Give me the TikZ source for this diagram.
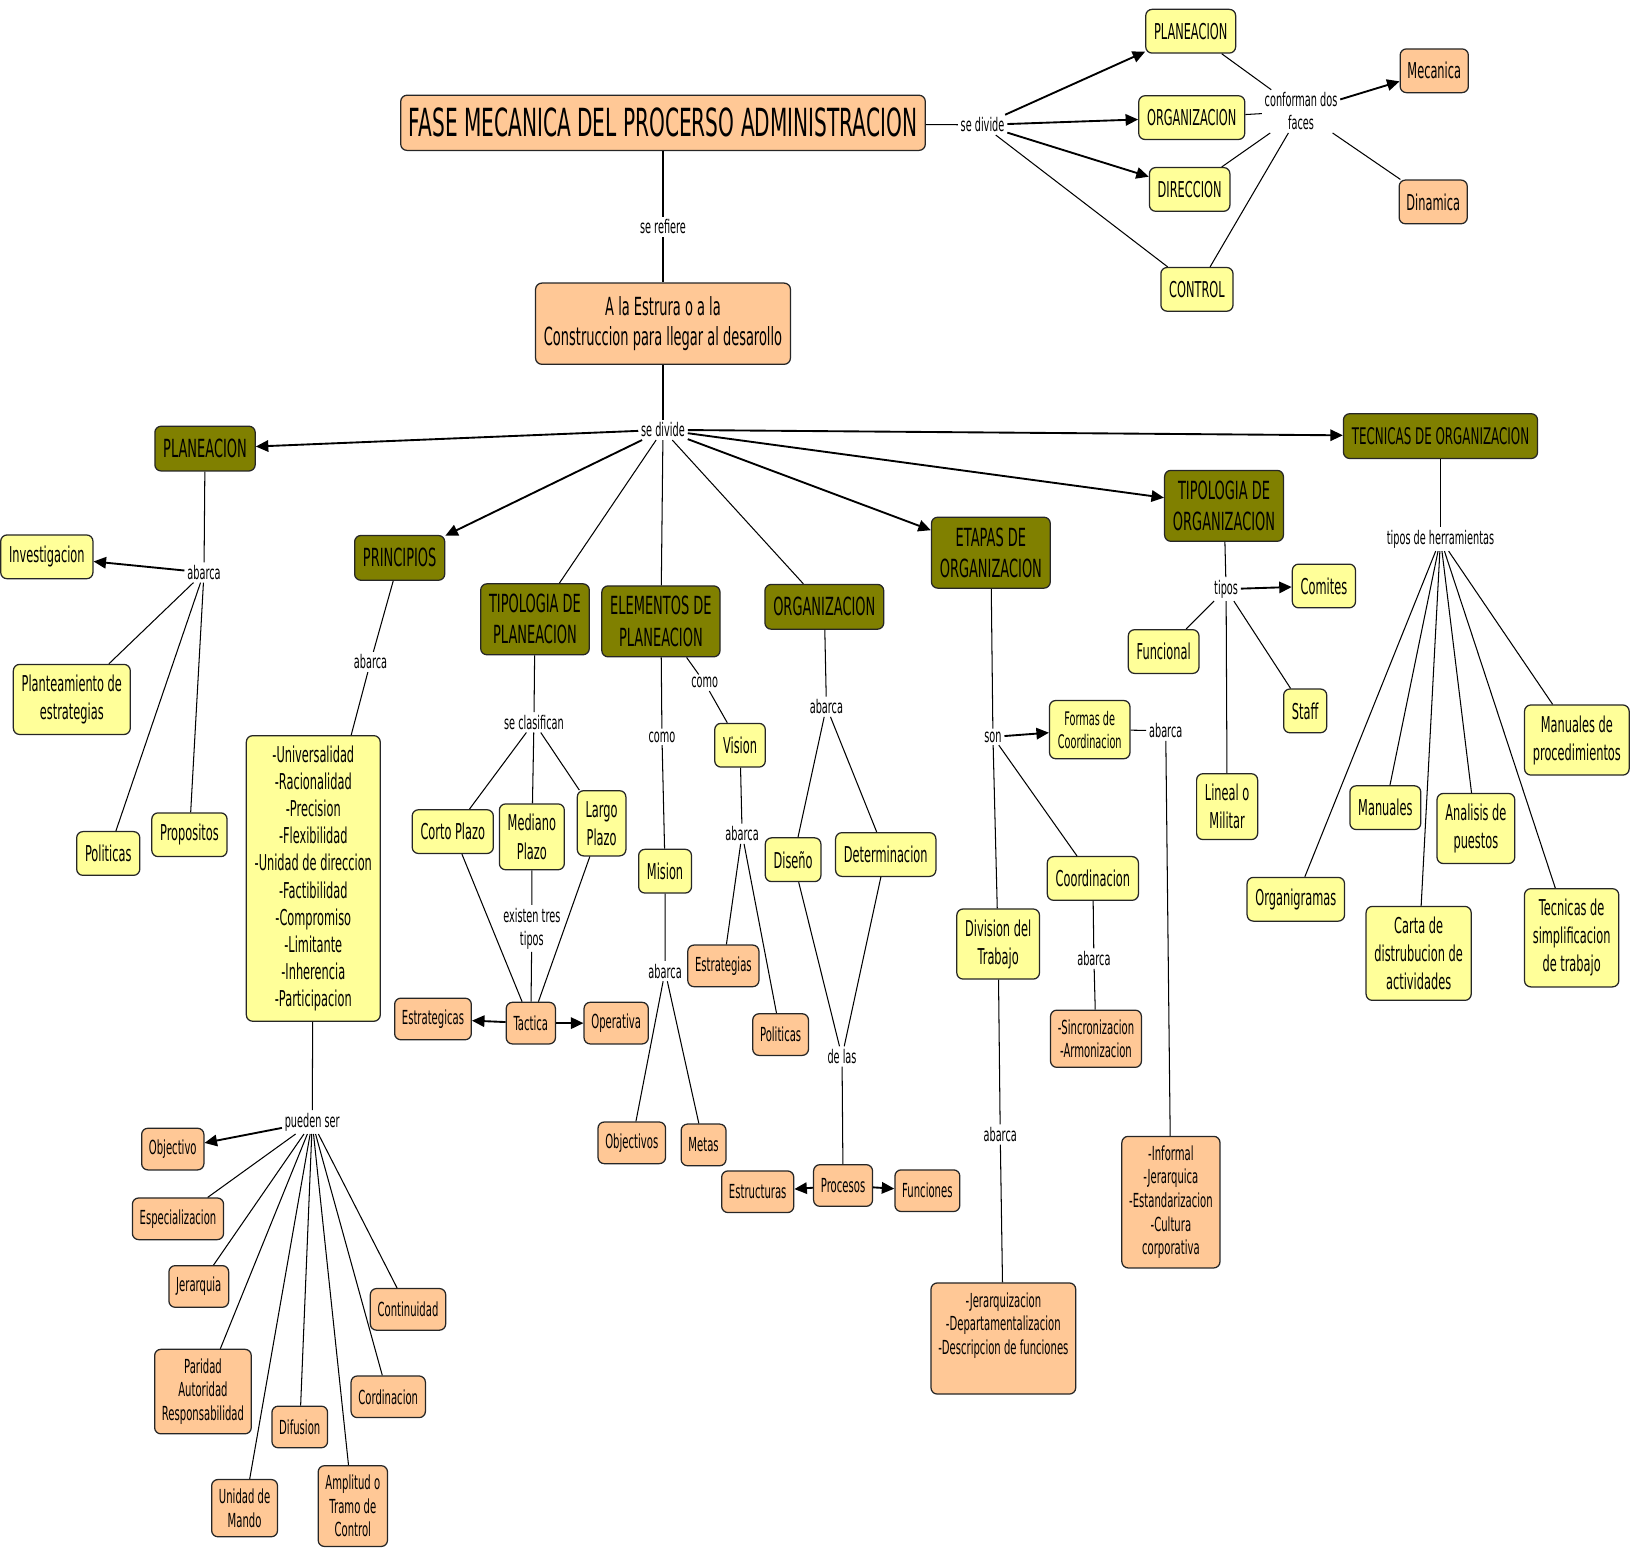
\documentclass[tikz,border=0pt]{standalone}
\usepackage{fontspec}
\setmainfont{DejaVu Sans}[FakeStretch=0.52]
\usetikzlibrary{arrows.meta}
\definecolor{ylw}{RGB}{255,255,153}
\definecolor{slm}{RGB}{255,200,150}
\definecolor{olv}{RGB}{128,128,0}
\newcommand\fsz[2]{\fontsize{#1}{#2}\selectfont}

\begin{document}
\begin{tikzpicture}[x=0.5pt,y=-0.5pt,
box/.style={shape=rectangle, rounded corners=3pt, draw=black!85, line width=0.6pt, align=center, inner xsep=4pt, inner ysep=5pt},
ybox/.style={box, fill=ylw, font=\fsz{10.5}{13.5}, minimum height=21pt},
sbox/.style={box, fill=slm, font=\fsz{9.3}{11.3}, minimum height=20pt, inner xsep=3.5pt, inner ysep=4.5pt},
obox/.style={box, fill=olv, font=\fsz{12}{15}, minimum height=21.5pt},
lnk/.style={inner sep=1.2pt, align=center, font=\fsz{9}{11}},
con/.style={line width=0.5pt},
arr/.style={line width=0.9pt, -{Triangle[length=6pt,width=5.5pt]}}]
\useasboundingbox (0,0) rectangle (1568,1488);

\node[box, fill=slm, font=\fsz{18.6}{21}, inner xsep=2pt, minimum width=252pt, minimum height=26.5pt] (fase) at (637,118) {FASE MECANICA DEL PROCERSO ADMINISTRACION};
\node[lnk] (sdA) at (944,120) {se divide};
\node[ybox] (pT) at (1144,30) {PLANEACION};
\node[ybox] (oT) at (1145,113) {ORGANIZACION};
\node[ybox] (dT) at (1143,182) {DIRECCION};
\node[ybox] (cT) at (1150,278) {CONTROL};
\node[lnk] (conf) at (1250,107) {conforman dos\\faces};
\node[sbox, font=\fsz{10.5}{13.5}, minimum height=21pt] (mec) at (1378,68) {Mecanica};
\node[sbox, font=\fsz{10.5}{13.5}, minimum height=21pt] (din) at (1377,194) {Dinamica};
\draw[con] (fase) -- (sdA);
\foreach \n in {pT,oT,dT} \draw[arr] (sdA) -- (\n);
\draw[con] (sdA) -- (cT);
\foreach \n in {pT,oT,dT,cT} \draw[con] (\n) -- (conf);
\draw[arr] (conf) -- (mec);
\draw[con] (conf) -- (din);

\node[lnk] (sref) at (637,218) {se refiere};
\node[box, fill=slm, font=\fsz{12}{14.5}, minimum width=121pt, minimum height=39pt] (estrura) at (637,311) {A la Estrura o a la\\Construccion para llegar al desarollo};
\node[lnk] (sdB) at (637,413) {se divide};
\draw[con] (fase) -- (sref) -- (estrura) -- (sdB);

\node[obox] (plan) at (197,431) {PLANEACION};
\node[obox] (prin) at (384,536) {PRINCIPIOS};
\node[obox] (tplan) at (514,595) {TIPOLOGIA DE\\PLANEACION};
\node[obox] (eplan) at (635,597) {ELEMENTOS DE\\PLANEACION};
\node[obox] (org) at (792,583) {ORGANIZACION};
\node[obox] (etapas) at (952,531) {ETAPAS DE\\ORGANIZACION};
\node[obox] (torg) at (1176,486) {TIPOLOGIA DE\\ORGANIZACION};
\node[obox, font=\fsz{11}{14}] (tec) at (1384,419) {TECNICAS DE ORGANIZACION};
\foreach \n in {plan,prin,etapas,torg,tec} \draw[arr] (sdB) -- (\n);
\foreach \n in {tplan,eplan,org} \draw[con] (sdB) -- (\n);

\node[lnk] (abP) at (196,550) {abarca};
\node[ybox] (inv) at (45,535) {Investigacion};
\node[ybox] (plant) at (69,672) {Planteamiento de\\estrategias};
\node[ybox] (polP) at (104,820) {Politicas};
\node[ybox] (prop) at (182,802) {Propositos};
\draw[con] (plan) -- (abP);
\draw[arr] (abP) -- (inv);
\foreach \n in {plant,polP,prop} \draw[con] (abP) -- (\n);

\node[lnk] (abPr) at (356,636) {abarca};
\node[ybox, font=\fsz{10.5}{13}] (lista) at (301,844) {-Universalidad\\-Racionalidad\\-Precision\\-Flexibilidad\\-Unidad de direccion\\-Factibilidad\\-Compromiso\\-Limitante\\-Inherencia\\-Participacion};
\node[lnk] (pser) at (300,1078) {pueden ser};
\node[sbox] (obj) at (166,1104) {Objectivo};
\node[sbox] (esp) at (171,1171) {Especializacion};
\node[sbox] (jer) at (191,1236) {Jerarquia};
\node[sbox] (par) at (195,1337) {Paridad\\Autoridad\\Responsabilidad};
\node[sbox] (uni) at (235,1449) {Unidad de\\Mando};
\node[sbox] (dif) at (288,1371) {Difusion};
\node[sbox] (amp) at (339,1447) {Amplitud o\\Tramo de\\Control};
\node[sbox] (cord) at (373,1342) {Cordinacion};
\node[sbox] (cont) at (392,1258) {Continuidad};
\draw[con] (prin) -- (abPr) -- (lista) -- (pser);
\draw[arr] (pser) -- (obj);
\foreach \n in {esp,jer,par,uni,dif,amp,cord,cont} \draw[con] (pser) -- (\n);

\node[lnk] (secl) at (513,694) {se clasifican};
\node[ybox] (corto) at (435,799) {Corto Plazo};
\node[ybox] (mediano) at (511,804) {Mediano\\Plazo};
\node[ybox] (largo) at (578,791) {Largo\\Plazo};
\node[lnk] (ext) at (511,892) {existen tres\\tipos};
\node[sbox] (tact) at (510,983) {Tactica};
\node[sbox] (estg) at (416,979) {Estrategicas};
\node[sbox] (oper) at (592,983) {Operativa};
\draw[con] (tplan) -- (secl);
\foreach \n in {corto,mediano,largo} \draw[con] (secl) -- (\n);
\draw[con] (mediano) -- (ext) -- (tact);
\draw[con] (corto) -- (tact) (largo) -- (tact);
\draw[arr] (tact) -- (estg);
\draw[arr] (tact) -- (oper);

\node[lnk] (comoA) at (636,708) {como};
\node[lnk] (comoB) at (677,656) {como};
\node[ybox] (vis) at (711,716) {Vision};
\node[ybox] (mis) at (639,837) {Mision};
\node[lnk] (abM) at (639,933) {abarca};
\node[sbox] (objs) at (607,1098) {Objectivos};
\node[sbox] (metas) at (676,1100) {Metas};
\node[lnk] (abV) at (713,801) {abarca};
\node[sbox] (estr) at (695,928) {Estrategias};
\node[sbox] (polE) at (750,994) {Politicas};
\draw[con] (eplan) -- (comoA) -- (mis) -- (abM);
\draw[con] (eplan) -- (comoB) -- (vis) -- (abV);
\foreach \n in {objs,metas} \draw[con] (abM) -- (\n);
\foreach \n in {estr,polE} \draw[con] (abV) -- (\n);

\node[lnk] (abO) at (794,679) {abarca};
\node[ybox] (dis) at (762,826) {Diseño};
\node[ybox] (det) at (851,821) {Determinacion};
\node[lnk] (delas) at (809,1015) {de las};
\node[sbox] (proc) at (810,1139) {Procesos};
\node[sbox] (estc) at (728,1145) {Estructuras};
\node[sbox] (func) at (891,1144) {Funciones};
\draw[con] (org) -- (abO);
\foreach \n in {dis,det} \draw[con] (abO) -- (\n) (\n) -- (delas);
\draw[con] (delas) -- (proc);
\draw[arr] (proc) -- (estc);
\draw[arr] (proc) -- (func);

\node[lnk] (son) at (954,708) {son};
\node[ybox, font=\fsz{9}{11}] (formas) at (1047,701) {Formas de\\Coordinacion};
\node[lnk] (abF) at (1120,702) {abarca};
\node[sbox] (inf) at (1125,1155) {-Informal\\-Jerarquica\\-Estandarizacion\\-Cultura\\corporativa};
\node[ybox] (coord) at (1050,844) {Coordinacion};
\node[lnk] (abC) at (1051,921) {abarca};
\node[sbox] (sinc) at (1053,998) {-Sincronizacion\\-Armonizacion};
\node[ybox] (divT) at (959,907) {Division del\\Trabajo};
\node[lnk] (abD) at (961,1090) {abarca};
\node[sbox] (jerq) at (964,1286) {-Jerarquizacion\\-Departamentalizacion\\-Descripcion de funciones\\\strut};
\draw[con] (etapas) -- (son);
\draw[arr] (son) -- (formas);
\draw[con] (son) -- (coord) (son) -- (divT);
\draw[con] (formas) -- (abF) -- (inf);
\draw[con] (coord) -- (abC) -- (sinc);
\draw[con] (divT) -- (abD) -- (jerq);

\node[lnk] (tipos) at (1178,566) {tipos};
\node[ybox] (com) at (1272,563) {Comites};
\node[ybox] (funcl) at (1118,626) {Funcional};
\node[ybox] (staff) at (1254,683) {Staff};
\node[ybox] (lineal) at (1179,775) {Lineal o\\Militar};
\draw[con] (torg) -- (tipos);
\draw[arr] (tipos) -- (com);
\foreach \n in {funcl,staff,lineal} \draw[con] (tipos) -- (\n);

\node[lnk] (herr) at (1384,518) {tipos de herramientas};
\node[ybox] (organ) at (1245,864) {Organigramas};
\node[ybox] (man) at (1331,776) {Manuales};
\node[ybox] (carta) at (1363,916) {Carta de\\distrubucion de\\actividades};
\node[ybox] (anal) at (1418,796) {Analisis de\\puestos};
\node[ybox] (tecS) at (1510,901) {Tecnicas de\\simplificacion\\de trabajo};
\node[ybox] (manP) at (1515,711) {Manuales de\\procedimientos};
\draw[con] (tec) -- (herr);
\foreach \n in {organ,man,carta,anal,tecS,manP} \draw[con] (herr) -- (\n);
\end{tikzpicture}
\end{document}
